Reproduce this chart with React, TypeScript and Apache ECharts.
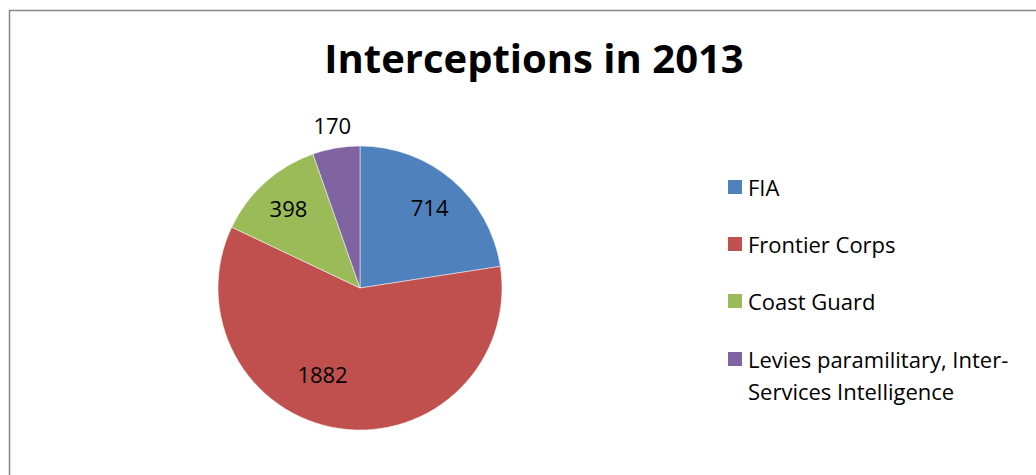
import React, { useEffect, useRef } from "react";
import * as echarts from "echarts";

const titleText = "Interceptions in 2013";
const categories = [
  "FIA",
  "Frontier Corps",
  "Coast Guard",
  "Levies paramilitary, Inter-Services Intelligence",
];
const values = [714, 1882, 398, 170];
const colors = ["#4F81BD", "#C0504D", "#9BBB59", "#8064A2"];
const insideLabelNames = ["FIA", "Frontier Corps", "Coast Guard"];
const outsideLabelNames = ["Levies paramilitary, Inter-Services Intelligence"];

const FONT = "Open Sans";

export default function App() {
  const ref = useRef<HTMLDivElement>(null);
  useEffect(() => {
    document.body.style.margin = "0";
    const chart = echarts.init(ref.current!, null, { renderer: "svg" });
    const data = categories.map((name, i) => ({
      name,
      value: values[i],
      itemStyle: { color: colors[i] },
    }));
    const ghost = (names: string[]) =>
      categories.map((name, i) => ({
        name: name + " ",
        value: values[i],
        itemStyle: { color: "rgba(0,0,0,0)" },
        label: names.includes(name)
          ? { show: true, ...(name === "Frontier Corps" ? { offset: [-22, -20] } : {}) }
          : { show: false },
      }));
    const center = ["360", "288"];
    const labelStyle = {
      show: true,
      position: "inside",
      formatter: "{c}",
      fontFamily: FONT,
      fontSize: 22,
      color: "#000",
    };
    const option: any = {
      animation: false,
      backgroundColor: "#ffffff",
      title: {
        text: titleText,
        left: 529,
        textAlign: "center",
        top: 32,
        textStyle: { fontFamily: FONT, fontWeight: "bold", fontSize: 40, color: "#000" },
      },
      legend: [
        {
          orient: "vertical",
          left: 721,
          top: 169,
          itemWidth: 16,
          itemHeight: 16,
          itemGap: 31,
          icon: "rect",
          data: categories.slice(0, 3),
          textStyle: { fontFamily: FONT, fontSize: 22, color: "#000", lineHeight: 26 },
          selectedMode: false,
        },
        {
          orient: "vertical",
          left: 721,
          top: 338,
          itemWidth: 16,
          itemHeight: 48,
          icon: "path://M0,0h16v16h-16z M0,48h0.01",
          data: categories.slice(3),
          formatter: (n: string) => n.replace("Inter-Services", "Inter-\nServices"),
          textStyle: { fontFamily: FONT, fontSize: 22, color: "#000", lineHeight: 32 },
          selectedMode: false,
        },
      ],
      series: [
        {
          type: "pie",
          center,
          radius: 142,
          startAngle: 90,
          clockwise: true,
          silent: true,
          label: { show: false },
          labelLine: { show: false },
          itemStyle: { borderColor: "#ffffff", borderWidth: 0.5 },
          data,
        },
        {
          type: "pie",
          center,
          radius: [66, 142],
          startAngle: 90,
          clockwise: true,
          silent: true,
          label: labelStyle,
          labelLine: { show: false },
          data: ghost(insideLabelNames),
        },
        {
          type: "pie",
          center,
          radius: [142, 182],
          startAngle: 90,
          clockwise: true,
          silent: true,
          label: labelStyle,
          labelLine: { show: false },
          data: ghost(outsideLabelNames),
        },
      ],
      graphic: [
        {
          type: "rect",
          shape: { x: 9.5, y: 10.5, width: 1100, height: 600 },
          style: { fill: "none", stroke: "#878787", lineWidth: 1.5 },
          silent: true,
        },
      ],
    };
    chart.setOption(option);
    return () => chart.dispose();
  }, []);
  return <div ref={ref} style={{ width: 1036, height: 475 }} />;
}
